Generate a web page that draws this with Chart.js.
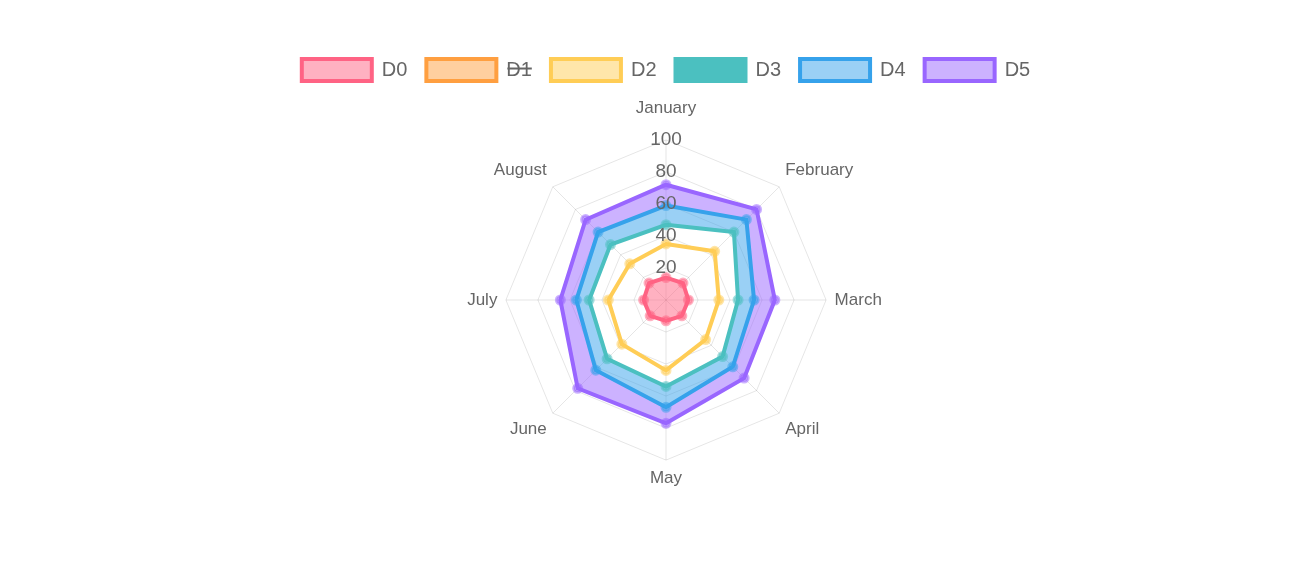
<!DOCTYPE html>
<html>
<head>
<meta charset="utf-8">
<script src="https://cdn.jsdelivr.net/npm/chart.js@4/dist/chart.umd.min.js"></script>
<style>
  html, body { margin: 0; padding: 0; background: #fff; }
  #wrap { width: 1311px; height: 569px; }
</style>
</head>
<body>
<div id="wrap"><canvas id="radarChart"></canvas></div>
<script>
const months = ['January', 'February', 'March', 'April', 'May', 'June', 'July', 'August'];

const d0 = [14, 15, 14, 14, 13, 14, 14, 15];
const d1 = [24, 28, 22, 24, 30, 26, 23, 22];
const d2 = [35, 43, 33, 35, 44, 39, 36, 32];
const d3 = [47, 60, 45, 50, 54, 52, 48, 49];
const d4 = [59, 71, 55, 59, 67, 62, 56, 60];
const d5 = [72, 80, 68, 69, 77, 78, 66, 71];

const red = 'rgb(255, 99, 132)';
const orange = 'rgb(255, 159, 64)';
const yellow = 'rgb(255, 205, 86)';
const green = 'rgb(75, 192, 192)';
const blue = 'rgb(54, 162, 235)';
const purple = 'rgb(153, 102, 255)';

function fade(c) {
    return c.replace('rgb(', 'rgba(').replace(')', ', 0.5)');
}

function ds(label, data, color, extra) {
    return Object.assign({
        label: label,
        data: data,
        borderColor: color,
        backgroundColor: fade(color),
        borderWidth: 4,
        pointRadius: 4,
        pointBorderWidth: 3,
        pointBackgroundColor: fade(color),
        pointBorderColor: fade(color)
    }, extra || {});
}

Chart.defaults.font.family = 'Arial, "Liberation Sans", sans-serif';
Chart.defaults.color = '#666';

const ctx = document.getElementById('radarChart').getContext('2d');
new Chart(ctx, {
    type: 'radar',
    data: {
        labels: months,
        datasets: [
            ds('D0', d0, red, { fill: 'origin' }),
            ds('D1', d1, orange, { hidden: true, fill: '-1' }),
            ds('D2', d2, yellow, { fill: 1 }),
            ds('D3', d3, green, { fill: false, backgroundColor: green }),
            ds('D4', d4, blue, { fill: '-1' }),
            ds('D5', d5, purple, { fill: '-1' })
        ]
    },
    options: {
        responsive: true,
        maintainAspectRatio: false,
        animation: false,
        layout: { padding: { top: 40, bottom: 73, left: 21, right: 0 } },
        plugins: {
            filler: { propagate: false },
            tooltip: { enabled: false },
            legend: {
                labels: {
                    boxWidth: 70,
                    boxHeight: 22,
                    padding: 19,
                    font: { size: 20 }
                }
            }
        },
        scales: {
            r: {
                min: 0,
                max: 100,
                ticks: {
                    stepSize: 20,
                    showLabelBackdrop: false,
                    color: '#666',
                    font: { size: 19 },
                    z: 1
                },
                pointLabels: {
                    font: { size: 17 },
                    color: '#666',
                    padding: (c) => c.index === 0 ? 10 : -3
                },
                grid: { color: 'rgba(0,0,0,0.1)' },
                angleLines: { color: 'rgba(0,0,0,0.1)' }
            }
        }
    }
});
</script>
</body>
</html>
